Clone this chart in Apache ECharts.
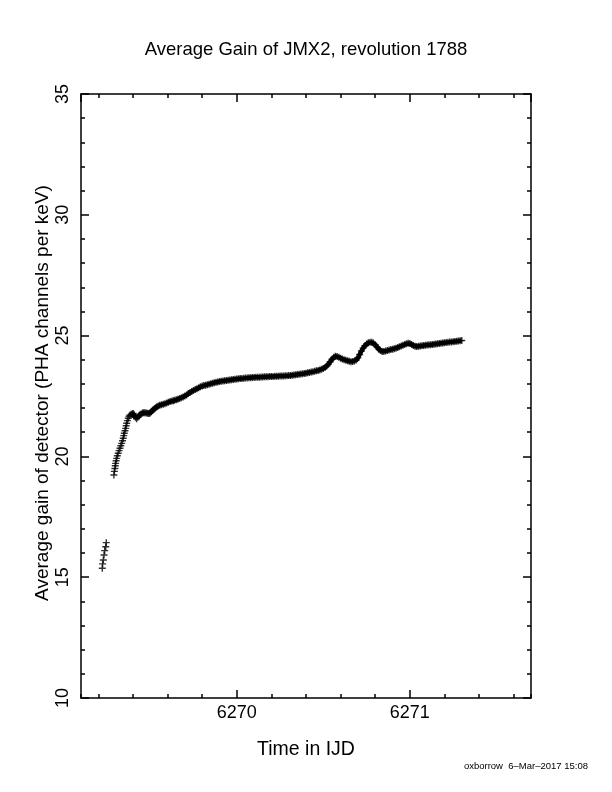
<!DOCTYPE html>
<html>
<head>
<meta charset="utf-8">
<title>Average Gain of JMX2, revolution 1788</title>
<script src="https://cdn.jsdelivr.net/npm/echarts@6/dist/echarts.min.js"></script>
<style>
html,body{margin:0;padding:0;background:#fff;}
#chart{width:612px;height:792px;}
</style>
</head>
<body>
<div id="chart"></div>
<script>
const titleText = 'Average Gain of JMX2, revolution 1788';
const xName = 'Time in IJD';
const yName = 'Average gain of detector (PHA channels per keV)';
const footer = 'oxborrow  6\u2013Mar\u20132017 15:08';
const xMin = 6269.1, xMax = 6271.7;
const yMin = 10, yMax = 35;

// first few samples, before the gap
const earlyTime = [6269.223,6269.225,6269.229,6269.233,6269.237,6269.243,6269.246];
const earlyGain = [15.37,15.55,15.71,15.92,16.10,16.26,16.43];

// steep rise and the little dip after it
const riseTime = [6269.290,6269.293,6269.296,6269.298,6269.300,6269.303,6269.306,6269.310,6269.315,6269.320,
  6269.325,6269.330,6269.335,6269.340,6269.344,6269.347,6269.350,6269.354,6269.358,6269.361,
  6269.364,6269.368,6269.373,6269.378,6269.383,6269.390,6269.397,6269.402,6269.408,6269.414,
  6269.421,6269.428,6269.434,6269.440,6269.447,6269.455,6269.462,6269.469,6269.477,6269.485,
  6269.492,6269.498,6269.505,6269.511,6269.517,6269.524,6269.531,6269.538,6269.546,6269.555,
  6269.565,6269.575,6269.585,6269.595,6269.605,6269.615,6269.625,6269.633];
const riseGain = [19.23,19.38,19.50,19.61,19.71,19.82,19.92,20.03,20.13,20.24,
  20.34,20.44,20.54,20.65,20.75,20.86,20.96,21.06,21.16,21.27,
  21.37,21.48,21.58,21.66,21.71,21.74,21.77,21.78,21.72,21.62,
  21.56,21.62,21.68,21.72,21.76,21.80,21.81,21.81,21.80,21.79,
  21.78,21.79,21.84,21.89,21.93,21.97,22.01,22.05,22.09,22.12,
  22.14,22.16,22.18,22.21,22.24,22.27,22.29,22.30];

// the long slow part
const mainTime = [6269.64,6269.65,6269.66,6269.67,6269.68,6269.69,6269.70,6269.71,6269.72,6269.73,
  6269.74,6269.75,6269.76,6269.77,6269.78,6269.79,6269.80,6269.81,6269.82,6269.83,
  6269.84,6269.85,6269.86,6269.87,6269.88,6269.89,6269.90,6269.91,6269.92,6269.93,
  6269.94,6269.95,6269.96,6269.97,6269.98,6269.99,6270.00,6270.01,6270.02,6270.03,
  6270.04,6270.05,6270.06,6270.07,6270.08,6270.09,6270.10,6270.11,6270.12,6270.13,
  6270.14,6270.15,6270.16,6270.17,6270.18,6270.19,6270.20,6270.21,6270.22,6270.23,
  6270.24,6270.25,6270.26,6270.27,6270.28,6270.29,6270.30,6270.31,6270.32,6270.33,
  6270.34,6270.35,6270.36,6270.37,6270.38,6270.39,6270.40,6270.41,6270.42,6270.43,
  6270.44,6270.45,6270.46,6270.47,6270.48,6270.49,6270.50,6270.51,6270.52,6270.53,
  6270.54,6270.55,6270.56,6270.57,6270.58,6270.59,6270.60,6270.61,6270.62,6270.63,
  6270.64,6270.65,6270.66,6270.67,6270.68,6270.69,6270.70,6270.71,6270.72,6270.73,
  6270.74,6270.75,6270.76,6270.77,6270.78,6270.79,6270.80,6270.81,6270.82,6270.83,
  6270.84,6270.85,6270.86,6270.87,6270.88,6270.89,6270.90,6270.91,6270.92,6270.93,
  6270.94,6270.95,6270.96,6270.97,6270.98,6270.99,6271.00,6271.01,6271.02,6271.03,
  6271.04,6271.05,6271.06,6271.07,6271.08,6271.09,6271.10,6271.11,6271.12,6271.13,
  6271.14,6271.15,6271.16,6271.17,6271.18,6271.19,6271.20,6271.21,6271.22,6271.23,
  6271.24,6271.25,6271.26,6271.27,6271.28,6271.29,6271.30];
const mainGain = [22.32,22.34,22.37,22.40,22.43,22.46,22.50,22.54,22.60,22.65,
  22.69,22.73,22.77,22.80,22.84,22.88,22.91,22.93,22.95,22.97,
  22.99,23.01,23.03,23.05,23.07,23.08,23.10,23.11,23.12,23.13,
  23.14,23.15,23.16,23.17,23.18,23.19,23.20,23.21,23.22,23.22,
  23.23,23.24,23.25,23.26,23.26,23.27,23.27,23.28,23.28,23.28,
  23.29,23.29,23.30,23.30,23.30,23.31,23.31,23.31,23.32,23.32,
  23.32,23.33,23.33,23.33,23.34,23.34,23.35,23.35,23.36,23.37,
  23.38,23.39,23.40,23.41,23.42,23.43,23.44,23.46,23.47,23.49,
  23.50,23.52,23.54,23.56,23.58,23.61,23.64,23.68,23.74,23.82,
  23.92,24.02,24.10,24.15,24.14,24.10,24.06,24.03,24.00,23.98,
  23.96,23.94,23.92,23.93,23.95,23.99,24.08,24.22,24.36,24.48,
  24.58,24.65,24.70,24.72,24.72,24.69,24.62,24.53,24.44,24.38,
  24.34,24.34,24.36,24.38,24.40,24.42,24.44,24.46,24.48,24.51,
  24.54,24.57,24.60,24.63,24.66,24.68,24.67,24.63,24.59,24.56,
  24.55,24.56,24.57,24.58,24.59,24.60,24.61,24.62,24.62,24.63,
  24.64,24.65,24.66,24.67,24.68,24.69,24.70,24.71,24.72,24.73,
  24.74,24.75,24.76,24.77,24.78,24.79,24.80];

const zip = (t, g) => t.map((v, i) => [v, g[i]]);
const risePts = zip(riseTime, riseGain);
const mainPts = zip(mainTime, mainGain);
const allPts = zip(earlyTime, earlyGain).concat(risePts, mainPts);
// dense part of the record looks like a solid band
const bandPts = risePts.slice(24).concat(mainPts);

const font = '"Liberation Sans", Arial, Helvetica, sans-serif';
const black = {color: '#000', width: 1.5};
const plus = 'path://M0,2.8H7V4.2H0Z M2.8,0H4.2V7H2.8Z';

// minor (0.2) and major (1) ticks need their own axis each
function xAxisDef(pos, major) {
  const labelled = major && pos === 'bottom';
  return {
    type: 'value', position: pos, min: xMin, max: xMax,
    splitNumber: major ? 3 : 13,
    minInterval: major ? 1 : 0.2, maxInterval: major ? 1 : 0.2,
    axisLine: {show: !major, lineStyle: black},
    axisTick: {show: true, inside: true, length: major ? 8 : 4, lineStyle: black},
    axisLabel: {
      show: labelled, margin: 6, color: '#000', fontFamily: font, fontSize: 18,
      showMinLabel: false, showMaxLabel: false,
      formatter: v => Math.abs(v - Math.round(v)) < 1e-6 ? String(Math.round(v)) : ''
    },
    splitLine: {show: false},
    name: labelled ? xName : '',
    nameLocation: 'middle', nameGap: 42, nameMoveOverlap: false,
    nameTextStyle: {color: '#000', fontFamily: font, fontSize: 19.5}
  };
}

function yAxisDef(pos) {
  const left = pos === 'left';
  return {
    type: 'value', position: pos, min: yMin, max: yMax, interval: 5,
    axisLine: {show: true, lineStyle: black},
    axisTick: {show: true, inside: true, length: 8, lineStyle: black},
    minorTick: {show: true, splitNumber: 5, length: 4, lineStyle: black},
    axisLabel: {show: left, rotate: 90, margin: 9, color: '#000', fontFamily: font, fontSize: 18},
    splitLine: {show: false},
    name: left ? yName : '',
    nameLocation: 'middle', nameGap: 29, nameRotate: 90, nameMoveOverlap: false,
    nameTextStyle: {color: '#000', fontFamily: font, fontSize: 19, padding: [0, 0, 0, 6]}
  };
}

const chart = echarts.init(document.getElementById('chart'));
chart.setOption({
  animation: false,
  backgroundColor: '#fff',
  title: {
    text: titleText, left: 'center', top: 35,
    textStyle: {color: '#000', fontFamily: font, fontSize: 18.5, fontWeight: 'normal'}
  },
  grid: {left: 81, top: 94, width: 450, height: 604},
  xAxis: [xAxisDef('bottom', false), xAxisDef('bottom', true), xAxisDef('top', false), xAxisDef('top', true)],
  yAxis: [yAxisDef('left'), yAxisDef('right')],
  series: [
    {
      type: 'line', data: bandPts, xAxisIndex: 0, yAxisIndex: 0,
      symbol: 'none', silent: true,
      lineStyle: {color: '#000', width: 4.5}
    },
    {
      type: 'scatter', data: allPts, xAxisIndex: 0, yAxisIndex: 0,
      symbol: plus, symbolSize: 7, silent: true,
      itemStyle: {color: '#000'}
    }
  ],
  graphic: [{
    type: 'text', right: 24, top: 761,
    style: {text: footer, fill: '#000', font: '9.5px ' + font}
  }]
});
</script>
</body>
</html>
